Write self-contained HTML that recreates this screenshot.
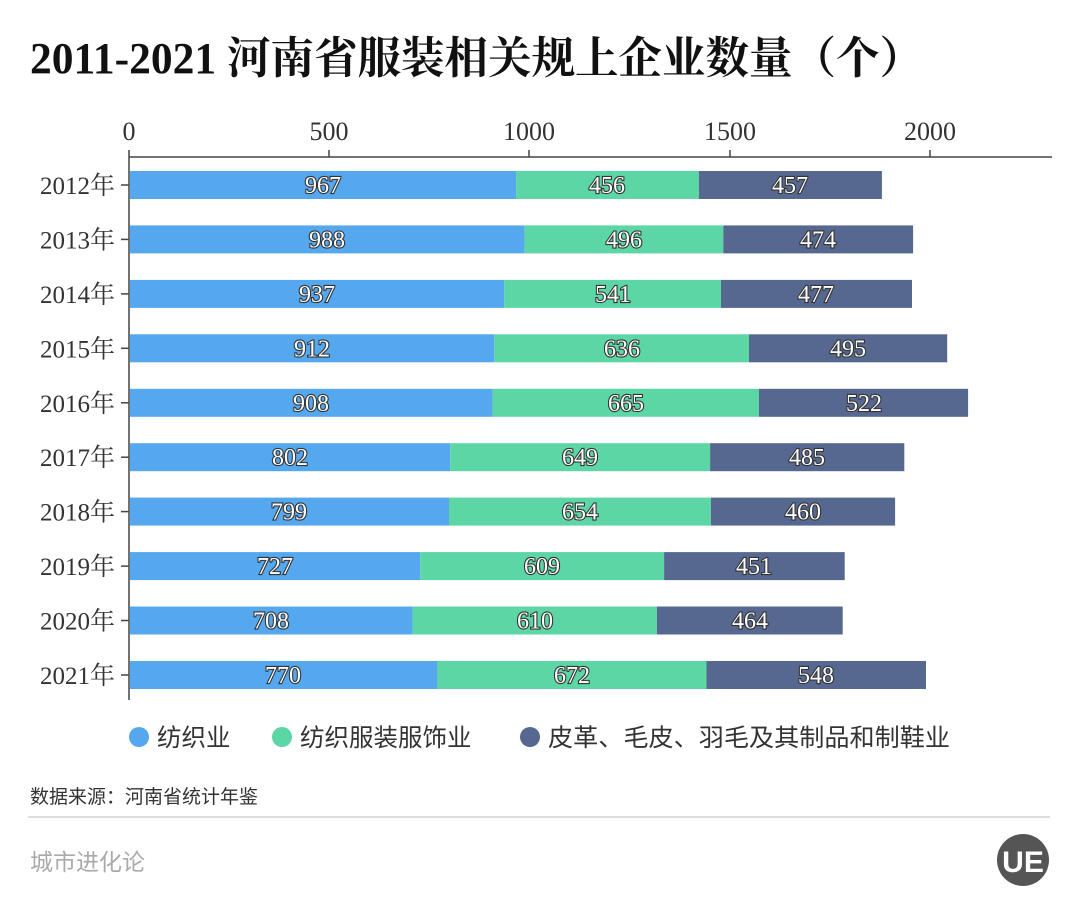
<!DOCTYPE html>
<html><head><meta charset="utf-8"><style>
body{margin:0;background:#fff;}
svg{display:block}
.s{font-family:"Liberation Serif","Noto Serif CJK SC",serif;}
.n{font-family:"Liberation Serif","Noto Serif CJK SC",serif;font-size:24px;fill:#fff;stroke:#333;stroke-width:2.2px;paint-order:stroke;text-anchor:middle;}
.y{font-family:"Liberation Serif","Noto Serif CJK SC",serif;font-size:25px;fill:#333;text-anchor:end;}
.k{font-family:"Liberation Serif",serif;font-size:26px;fill:#333;text-anchor:middle;}
.l{font-family:"Liberation Sans","Noto Sans CJK SC",sans-serif;font-size:24.5px;fill:#333;}
</style></head><body>
<svg width="1080" height="918" viewBox="0 0 1080 918" xmlns="http://www.w3.org/2000/svg">
<text x="30" y="73" class="s" font-size="44" font-weight="bold" fill="#111" textLength="893" lengthAdjust="spacingAndGlyphs">2011-2021 河南省服装相关规上企业数量（个）</text>
<g class="k">
<text x="129" y="140">0</text><text x="329" y="140">500</text><text x="529" y="140">1000</text><text x="730" y="140">1500</text><text x="930" y="140">2000</text>
</g>
<g stroke="#444" stroke-width="1.5">
<line x1="129" y1="157" x2="1052" y2="157"/>
<line x1="129" y1="150" x2="129" y2="700"/>
<line x1="329" y1="150" x2="329" y2="157"/><line x1="529" y1="150" x2="529" y2="157"/><line x1="730" y1="150" x2="730" y2="157"/><line x1="930" y1="150" x2="930" y2="157"/>
<line x1="121" y1="185" x2="129" y2="185"/><line x1="121" y1="239.4" x2="129" y2="239.4"/><line x1="121" y1="293.9" x2="129" y2="293.9"/><line x1="121" y1="348.3" x2="129" y2="348.3"/><line x1="121" y1="402.8" x2="129" y2="402.8"/><line x1="121" y1="457.2" x2="129" y2="457.2"/><line x1="121" y1="511.6" x2="129" y2="511.6"/><line x1="121" y1="566.1" x2="129" y2="566.1"/><line x1="121" y1="620.5" x2="129" y2="620.5"/><line x1="121" y1="675" x2="129" y2="675"/>
</g>
<g class="y">
<text x="115" y="194">2012年</text><text x="115" y="248.4">2013年</text><text x="115" y="302.9">2014年</text><text x="115" y="357.3">2015年</text><text x="115" y="411.8">2016年</text><text x="115" y="466.2">2017年</text><text x="115" y="520.6">2018年</text><text x="115" y="575.1">2019年</text><text x="115" y="629.5">2020年</text><text x="115" y="684">2021年</text>
</g>
<g>
<rect x="130" y="171" width="386.3" height="28" fill="#55a8ee"/><rect x="516.3" y="171" width="182.6" height="28" fill="#5dd6a6"/><rect x="698.9" y="171" width="183" height="28" fill="#56688f"/>
<rect x="130" y="225.4" width="394.7" height="28" fill="#55a8ee"/><rect x="524.7" y="225.4" width="198.6" height="28" fill="#5dd6a6"/><rect x="723.3" y="225.4" width="189.8" height="28" fill="#56688f"/>
<rect x="130" y="279.9" width="374.3" height="28" fill="#55a8ee"/><rect x="504.3" y="279.9" width="216.7" height="28" fill="#5dd6a6"/><rect x="721" y="279.9" width="191" height="28" fill="#56688f"/>
<rect x="130" y="334.3" width="364.3" height="28" fill="#55a8ee"/><rect x="494.3" y="334.3" width="254.7" height="28" fill="#5dd6a6"/><rect x="749" y="334.3" width="198.2" height="28" fill="#56688f"/>
<rect x="130" y="388.8" width="362.7" height="28" fill="#55a8ee"/><rect x="492.7" y="388.8" width="266.3" height="28" fill="#5dd6a6"/><rect x="759" y="388.8" width="209.1" height="28" fill="#56688f"/>
<rect x="130" y="443.2" width="320.2" height="28" fill="#55a8ee"/><rect x="450.2" y="443.2" width="259.9" height="28" fill="#5dd6a6"/><rect x="710.1" y="443.2" width="194.2" height="28" fill="#56688f"/>
<rect x="130" y="497.6" width="319" height="28" fill="#55a8ee"/><rect x="449" y="497.6" width="261.9" height="28" fill="#5dd6a6"/><rect x="710.9" y="497.6" width="184.2" height="28" fill="#56688f"/>
<rect x="130" y="552.1" width="290.2" height="28" fill="#55a8ee"/><rect x="420.2" y="552.1" width="243.9" height="28" fill="#5dd6a6"/><rect x="664.1" y="552.1" width="180.6" height="28" fill="#56688f"/>
<rect x="130" y="606.5" width="282.6" height="28" fill="#55a8ee"/><rect x="412.6" y="606.5" width="244.3" height="28" fill="#5dd6a6"/><rect x="656.9" y="606.5" width="185.8" height="28" fill="#56688f"/>
<rect x="130" y="661" width="307.4" height="28" fill="#55a8ee"/><rect x="437.4" y="661" width="269.1" height="28" fill="#5dd6a6"/><rect x="706.5" y="661" width="219.5" height="28" fill="#56688f"/>
</g>
<g class="n">
<text x="323" y="193">967</text><text x="607" y="193">456</text><text x="790" y="193">457</text>
<text x="327" y="247.4">988</text><text x="624" y="247.4">496</text><text x="818" y="247.4">474</text>
<text x="317" y="301.9">937</text><text x="613" y="301.9">541</text><text x="816" y="301.9">477</text>
<text x="312" y="356.3">912</text><text x="622" y="356.3">636</text><text x="848" y="356.3">495</text>
<text x="311" y="410.8">908</text><text x="626" y="410.8">665</text><text x="864" y="410.8">522</text>
<text x="290" y="465.2">802</text><text x="580" y="465.2">649</text><text x="807" y="465.2">485</text>
<text x="289" y="519.6">799</text><text x="580" y="519.6">654</text><text x="803" y="519.6">460</text>
<text x="275" y="574.1">727</text><text x="542" y="574.1">609</text><text x="754" y="574.1">451</text>
<text x="271" y="628.5">708</text><text x="535" y="628.5">610</text><text x="750" y="628.5">464</text>
<text x="283" y="683">770</text><text x="572" y="683">672</text><text x="816" y="683">548</text>
</g>
<circle cx="139" cy="737" r="10" fill="#55a8ee"/><text x="157" y="746" class="l">纺织业</text>
<circle cx="282" cy="737" r="10" fill="#5dd6a6"/><text x="300" y="746" class="l">纺织服装服饰业</text>
<circle cx="530" cy="737" r="10" fill="#56688f"/><text x="548" y="746" class="l" textLength="402" lengthAdjust="spacingAndGlyphs">皮革、毛皮、羽毛及其制品和制鞋业</text>
<text x="30" y="803" font-family="'Liberation Sans','Noto Sans CJK SC',sans-serif" font-size="19" fill="#333">数据来源：河南省统计年鉴</text>
<line x1="28" y1="817" x2="1050" y2="817" stroke="#ddd" stroke-width="2"/>
<text x="30" y="870" font-family="'Liberation Sans','Noto Sans CJK SC',sans-serif" font-size="23" fill="#aaa">城市进化论</text>
<circle cx="1023" cy="860" r="26" fill="#555"/>
<text x="1023" y="872" text-anchor="middle" font-family="'Liberation Sans',sans-serif" font-size="30" font-weight="bold" fill="#fff">UE</text>
</svg>
</body></html>
